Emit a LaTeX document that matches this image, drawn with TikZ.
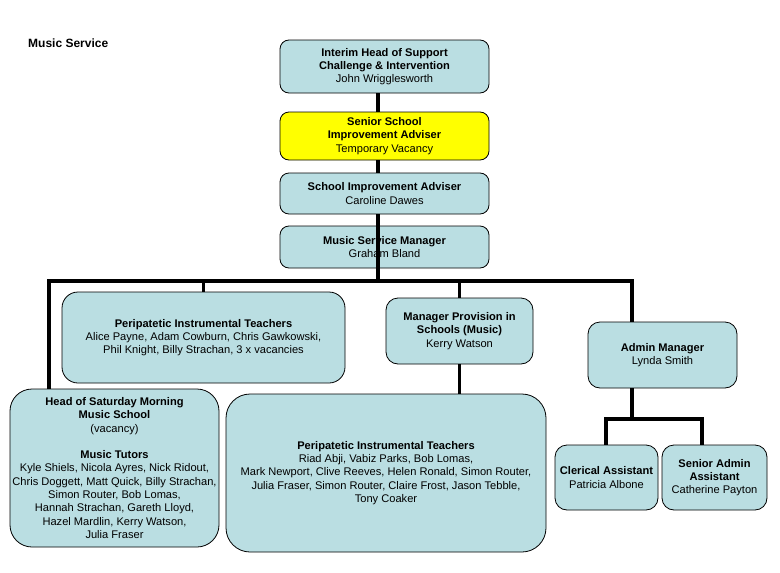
\documentclass[tikz,border=0pt]{standalone}
\usepackage{fontspec}
\setmainfont{Liberation Sans}
\definecolor{boxblue}{RGB}{186,222,226}
\definecolor{boxyellow}{RGB}{255,255,0}
\tikzset{
  box/.style={draw=black, line width=0.8pt, fill=boxblue, rounded corners=9pt,
    align=center, inner sep=0pt, font=\fontsize{11.1}{13.3}\selectfont},
  conn/.style={draw=black, line width=3.2pt, line join=miter}
}
\begin{document}
\begin{tikzpicture}[x=1pt,y=-1pt]
\useasboundingbox (0,0) rectangle (780,573);
\node[anchor=west, inner sep=0pt, font=\fontsize{12}{14}\selectfont\bfseries] (title) at (28,43) {Music Service};

\node[box, minimum width=209pt, minimum height=53pt] (ihs) at (384.5,66.5)
  {\textbf{Interim Head of Support}\\\textbf{Challenge \& Intervention}\\John Wrigglesworth};
\node[box, fill=boxyellow, minimum width=209pt, minimum height=48pt] (ssia) at (384.5,136)
  {\textbf{Senior School}\\\textbf{Improvement Adviser}\\Temporary Vacancy};
\node[box, minimum width=209pt, minimum height=41pt] (sia) at (384.5,193.5)
  {\textbf{School Improvement Adviser}\\Caroline Dawes};
\node[box, minimum width=209pt, minimum height=42pt] (msm) at (384.5,247)
  {\textbf{Music Service Manager}\\Graham Bland};

\node[box, rounded corners=16pt, minimum width=283pt, minimum height=91pt] (pit1) at (203.5,337.5)
  {\textbf{Peripatetic Instrumental Teachers}\\Alice Payne, Adam Cowburn, Chris Gawkowski,\\Phil Knight, Billy Strachan, 3 x vacancies};
\node[box, rounded corners=12pt, minimum width=147pt, minimum height=66pt] (mpis) at (459.5,331)
  {\textbf{Manager Provision in}\\\textbf{Schools (Music)}\\Kerry Watson};
\node[box, rounded corners=12pt, minimum width=149pt, minimum height=66pt] (adm) at (662.5,355)
  {\textbf{Admin Manager}\\Lynda Smith};

\node[box, rounded corners=22pt, minimum width=209pt, minimum height=158pt] (sat) at (114.5,468)
  {\textbf{Head of Saturday Morning}\\\textbf{Music School}\\(vacancy)\\[13.3pt]\textbf{Music Tutors}\\Kyle Shiels, Nicola Ayres, Nick Ridout,\\Chris Doggett, Matt Quick, Billy Strachan,\\Simon Router, Bob Lomas,\\Hannah Strachan, Gareth Lloyd,\\Hazel Mardlin, Kerry Watson,\\Julia Fraser};
\node[box, rounded corners=24pt, minimum width=320pt, minimum height=158pt] (pit2) at (386,473)
  {\textbf{Peripatetic Instrumental Teachers}\\Riad Abji, Vabiz Parks, Bob Lomas,\\Mark Newport, Clive Reeves, Helen Ronald, Simon Router,\\Julia Fraser, Simon Router, Claire Frost, Jason Tebble,\\Tony Coaker};

\node[box, rounded corners=12pt, minimum width=103pt, minimum height=65pt] (cla) at (606.5,477.5)
  {\textbf{Clerical Assistant}\\Patricia Albone};
\node[box, rounded corners=12pt, minimum width=105pt, minimum height=65pt] (saa) at (714.5,477.5)
  {\textbf{Senior Admin}\\\textbf{Assistant}\\Catherine Payton};

\coordinate (spine) at (378,281);
\coordinate (busL) at (49,281);
\coordinate (busR) at (632,281);
\coordinate (subL) at (606,419);
\coordinate (subR) at (702,419);

\draw[conn] (ihs.south -| spine) -- (ssia.north -| spine);
\draw[conn] (ssia.south -| spine) -- (sia.north -| spine);
\draw[conn] (sia.south -| spine) -- (msm.south -| spine) -- (spine);
\draw[conn] (sat.north -| busL) -- (busL) -- (busR) -- (adm.north -| busR);
\draw[conn] (pit1.north) -- (pit1.north |- busL);
\draw[conn] (mpis.north) -- (mpis.north |- busL);
\draw[conn] (mpis.south) -- (mpis.south |- pit2.north);
\draw[conn] (adm.south -| busR) -- (busR |- subL);
\draw[conn] (cla.north -| subL) -- (subL) -- (subR) -- (saa.north -| subR);
\end{tikzpicture}
\end{document}
